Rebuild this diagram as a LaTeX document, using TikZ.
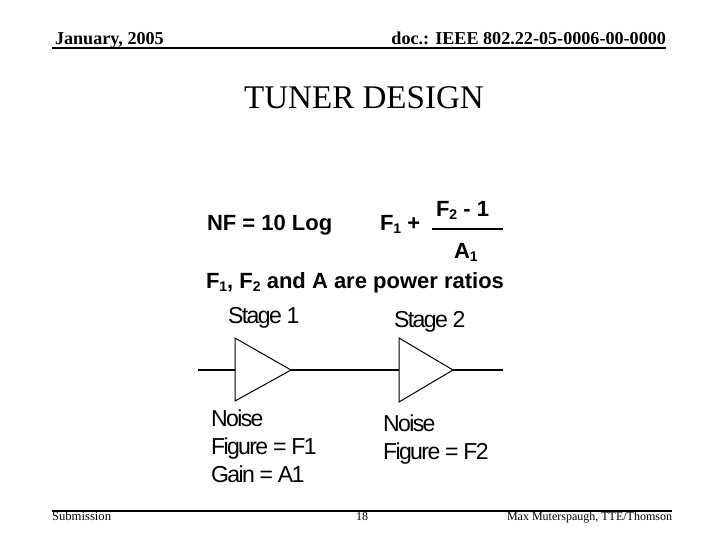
\documentclass[tikz,border=0pt]{standalone}
\usepackage{fontspec}
\setmainfont{Liberation Serif}
\setsansfont{Liberation Sans}
\newfontfamily\handfont[LetterSpace=-7]{Liberation Sans}
\newcommand{\pxfont}[1]{\fontsize{#1}{#1}\selectfont}
\newcommand{\subnum}[1]{\raisebox{-2.6pt}{\pxfont{10.5}#1}}
\tikzset{
  lbl/.style={inner sep=0pt,outer sep=0pt,anchor=base west},
  lblr/.style={inner sep=0pt,outer sep=0pt,anchor=base east},
  hdr/.style={lbl,font=\rmfamily\bfseries\pxfont{13.6}},
  hdrr/.style={lblr,font=\rmfamily\bfseries\pxfont{13.6}},
  ftr/.style={inner sep=0pt,outer sep=0pt,font=\rmfamily\pxfont{9}},
  formula/.style={lbl,font=\sffamily\bfseries\pxfont{16.5}},
  hand/.style={lbl,font=\handfont\pxfont{17.3},text=black},
  rulebar/.style={line width=1.5pt,black},
  wire/.style={line width=1.1pt,black},
  amp/.style={line width=0.75pt,black}
}
\begin{document}
\begin{tikzpicture}[x=0.75pt,y=-0.75pt]
\useasboundingbox (0,0) rectangle (720,540);
\fill[white] (0,0) rectangle (720,540);
% header
\node[hdr] (date) at (55,44) {January, 2005};
\node[hdrr] (doc) at (666,44) {doc.: IEEE 802.22-05-0006-00-0000};
\coordinate (hl) at (52,47.5); \coordinate (hr) at (666,47.5);
\draw[rulebar] (hl) -- (hr);
% title
\node[inner sep=0pt,anchor=base,font=\rmfamily\pxfont{24.8}] (title) at (364,108) {TUNER DESIGN};
% formula
\node[formula] (nf) at (207,230) {NF = 10 Log};
\node[formula] (f1) at (380,230) {F\subnum{1} +};
\node[formula] (f2) at (436,216) {F\subnum{2} - 1};
\coordinate (fa) at (432,229); \coordinate (fb) at (503,229);
\draw[line width=1.6pt] (fa) -- (fb);
\node[formula] (a1) at (454,258) {A\subnum{1}};
\node[formula] (pr) at (206,288) {F\subnum{1}, F\subnum{2} and A are power ratios};
% stage 1
\node[hand] (s1) at (228,323) {Stage 1};
\coordinate (a1t) at (235,338); \coordinate (a1b) at (235,401); \coordinate (a1m) at (235,370); \coordinate (a1o) at (291,370);
\draw[amp] (a1t) -- (a1o) -- (a1b) -- cycle;
% stage 2
\node[hand] (s2) at (394,327) {Stage 2};
\coordinate (a2t) at (399,338); \coordinate (a2b) at (399,402); \coordinate (a2m) at (399,370); \coordinate (a2o) at (453,370);
\draw[amp] (a2t) -- (a2o) -- (a2b) -- cycle;
% wires
\coordinate (in) at (198,370); \coordinate (out) at (503,370);
\draw[wire] (in) -- (a1m);
\draw[wire] (a1o) -- (a2m);
\draw[wire] (a2o) -- (out);
% notes
\node[hand] (n1) at (211,426) {Noise};
\node[hand] (n2) at (211,454) {Figure = F1};
\node[hand] (n3) at (211,482) {Gain = A1};
\node[hand] (m1) at (383,431) {Noise};
\node[hand] (m2) at (383,459) {Figure = F2};
% footer
\coordinate (fl) at (52,511); \coordinate (fr) at (672,511);
\draw[rulebar] (fl) -- (fr);
\node[ftr,anchor=base west,font=\rmfamily\pxfont{9.5}] (sub) at (52,520) {Submission};
\node[ftr,anchor=base] (pg) at (362,520) {18};
\node[ftr,anchor=base east] (auth) at (672,520) {Max Muterspaugh, TTE/Thomson};
\end{tikzpicture}
\end{document}
